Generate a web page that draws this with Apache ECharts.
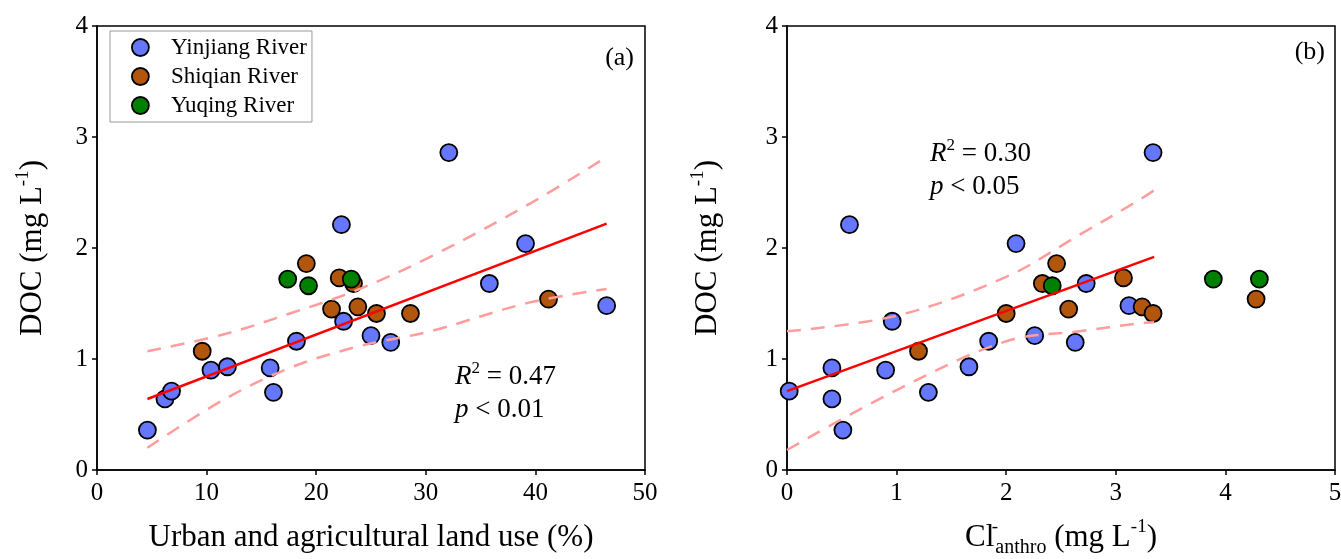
<!DOCTYPE html>
<html>
<head>
<meta charset="utf-8">
<script src="https://cdn.jsdelivr.net/npm/echarts@6/dist/echarts.min.js"></script>
<style>html,body{margin:0;padding:0;background:#fff}#c{width:1341px;height:559px}</style>
</head>
<body>
<div id="c"></div>
<script>
// ---- data ----
const seriesNames = ['Yinjiang River', 'Shiqian River', 'Yuqing River'];

const yinjiangLand = [4.6, 6.2, 6.8, 10.4, 11.9, 15.8, 16.1, 18.2, 22.5, 22.3, 25.0, 26.8, 32.1, 39.1, 35.8, 46.5];
const yinjiangCl   = [0.51, 0.41, 0.02, 0.90, 1.66, 0.41, 1.29, 1.84, 0.96, 0.57, 2.26, 2.63, 3.34, 2.09, 2.73, 3.12];
const yinjiangDOC  = [0.36, 0.64, 0.71, 0.90, 0.93, 0.92, 0.70, 1.16, 1.34, 2.21, 1.21, 1.15, 2.86, 2.04, 1.68, 1.48];

const shiqianLand = [9.6, 19.1, 22.1, 23.4, 21.4, 23.8, 25.5, 28.6, 41.2];
const shiqianCl   = [1.20, 2.46, 3.07, 2.33, 2.57, 3.24, 2.00, 3.34, 4.28];
const shiqianDOC  = [1.07, 1.86, 1.73, 1.68, 1.45, 1.47, 1.41, 1.41, 1.54];

const yuqingLand = [17.4, 19.3, 23.2];
const yuqingCl   = [3.89, 2.42, 4.31];
const yuqingDOC  = [1.72, 1.66, 1.72];

// regression line and 95% confidence band
const fitLandX = [4.6, 46.5];
const fitLandY = [0.64, 2.22];
const bandLandX = [4.6, 11.5, 17.6, 23.7, 30.4, 39.5, 46.5];
const bandLandUpper = [1.07, 1.22, 1.41, 1.62, 1.92, 2.40, 2.82];
const bandLandLower = [0.20, 0.63, 0.92, 1.11, 1.25, 1.51, 1.63];

const fitClX = [0, 3.35];
const fitClY = [0.71, 1.92];
const bandClX = [0, 1.0, 2.0, 2.67, 3.21, 3.35];
const bandClUpper = [1.25, 1.39, 1.74, 2.12, 2.43, 2.52];
const bandClLower = [0.18, 0.72, 1.16, 1.25, 1.32, 1.33];

const yTicks = [0, 1, 2, 3, 4];
const xTicksLand = [0, 10, 20, 30, 40, 50];
const xTicksCl = [0, 1, 2, 3, 4, 5];

const statsA = {r2: '0.47', p: '0.01'};
const statsB = {r2: '0.30', p: '0.05'};

// ---- styling ----
const FONT = 'Liberation Serif';
const colors = ['#6677FF', '#B2560E', '#008000'];
const zip = (xs, ys) => xs.map((x, i) => [x, ys[i]]);

const chart = echarts.init(document.getElementById('c'), null, {renderer: 'canvas'});

function xAxis(gridIndex, ticks, nameText, nameRich) {
  return {
    type: 'value', gridIndex,
    min: ticks[0], max: ticks[ticks.length - 1], interval: ticks[1] - ticks[0],
    name: nameText, nameLocation: 'middle', nameGap: 48,
    nameTextStyle: {fontFamily: FONT, fontSize: 31, color: '#000', lineHeight: 40, rich: nameRich || {}},
    axisLine: {show: true, onZero: false, lineStyle: {color: '#000', width: 1.5}},
    axisTick: {show: true, inside: false, length: 5, lineStyle: {color: '#000', width: 1.5}},
    axisLabel: {fontFamily: FONT, fontSize: 25, color: '#000', margin: 11},
    splitLine: {show: false}
  };
}
function yAxis(gridIndex, nameGap) {
  return {
    type: 'value', gridIndex,
    min: yTicks[0], max: yTicks[yTicks.length - 1], interval: 1,
    name: 'DOC (mg L{sup|-1})', nameLocation: 'middle', nameGap,
    nameTextStyle: {fontFamily: FONT, fontSize: 31, color: '#000', lineHeight: 38,
      rich: {sup: {fontFamily: FONT, fontSize: 19, lineHeight: 19, verticalAlign: 'top', color: '#000'}}},
    axisLine: {show: true, onZero: false, lineStyle: {color: '#000', width: 1.5}},
    axisTick: {show: true, inside: false, length: 5, lineStyle: {color: '#000', width: 1.5}},
    axisLabel: {fontFamily: FONT, fontSize: 25, color: '#000', margin: 9},
    splitLine: {show: false}
  };
}

function scatter(name, idx, data) {
  return {
    name, type: 'scatter', xAxisIndex: idx, yAxisIndex: idx, data,
    symbol: 'circle', symbolSize: 17, z: 2,
    itemStyle: {color: colors[seriesNames.indexOf(name)], borderColor: '#000', borderWidth: 1.8, opacity: 1}
  };
}
function fitLine(idx, data) {
  return {type: 'line', xAxisIndex: idx, yAxisIndex: idx, data, showSymbol: false, symbol: 'none', z: 5,
    lineStyle: {color: '#FF0000', width: 2.5}, silent: true};
}
function bandLine(idx, data) {
  return {type: 'line', xAxisIndex: idx, yAxisIndex: idx, data, showSymbol: false, symbol: 'none', z: 4, smooth: 0.35,
    lineStyle: {color: '#FF9C9C', width: 2.5, type: [14, 10]}, silent: true};
}

const statRich = {
  i: {fontFamily: FONT, fontSize: 27, fontStyle: 'italic', lineHeight: 33, color: '#000'},
  n: {fontFamily: FONT, fontSize: 27, lineHeight: 33, color: '#000'},
  sup: {fontFamily: FONT, fontSize: 17, lineHeight: 17, verticalAlign: 'top', color: '#000'}
};
function statText(x, y, s) {
  return {type: 'text', left: x, top: y, z: 10,
    style: {text: '{i|R}{sup|2}{n| = ' + s.r2 + '}\n{i|p}{n| < ' + s.p + '}', rich: statRich}};
}

const option = {
  backgroundColor: '#fff',
  animation: false,
  grid: [
    {left: 97, right: 696, top: 26, bottom: 89, containLabel: false, outerBoundsMode: 'none',
     show: true, borderColor: '#000', borderWidth: 1.5, backgroundColor: 'transparent'},
    {left: 787, right: 6, top: 26, bottom: 89, containLabel: false, outerBoundsMode: 'none',
     show: true, borderColor: '#000', borderWidth: 1.5, backgroundColor: 'transparent'}
  ],
  xAxis: [
    xAxis(0, xTicksLand, 'Urban and agricultural land use (%)'),
    xAxis(1, xTicksCl, 'Cl{supn|-}{sub|anthro} (mg L{sup|-1})', {
      supn: {fontFamily: FONT, fontSize: 19, lineHeight: 19, width: 1, verticalAlign: 'top', color: '#000'},
      sup: {fontFamily: FONT, fontSize: 19, lineHeight: 19, verticalAlign: 'top', color: '#000'},
      sub: {fontFamily: FONT, fontSize: 20, lineHeight: 20, verticalAlign: 'bottom', color: '#000'}
    })
  ],
  yAxis: [yAxis(0, 45), yAxis(1, 60)],
  legend: {
    data: seriesNames, orient: 'vertical', left: 110, top: 31,
    itemWidth: 17, itemHeight: 17, itemGap: 6, icon: 'circle',
    padding: [5, 5, 5, 21], borderColor: '#999', borderWidth: 1, backgroundColor: '#fff',
    itemStyle: {borderColor: '#000', borderWidth: 1.8},
    textStyle: {fontFamily: FONT, fontSize: 23, color: '#000', padding: [0, 0, 0, 17]}
  },
  series: [
    scatter('Yinjiang River', 0, zip(yinjiangLand, yinjiangDOC)),
    scatter('Shiqian River', 0, zip(shiqianLand, shiqianDOC)),
    scatter('Yuqing River', 0, zip(yuqingLand, yuqingDOC)),
    fitLine(0, zip(fitLandX, fitLandY)),
    bandLine(0, zip(bandLandX, bandLandUpper)),
    bandLine(0, zip(bandLandX, bandLandLower)),
    scatter('Yinjiang River', 1, zip(yinjiangCl, yinjiangDOC)),
    scatter('Shiqian River', 1, zip(shiqianCl, shiqianDOC)),
    scatter('Yuqing River', 1, zip(yuqingCl, yuqingDOC)),
    fitLine(1, zip(fitClX, fitClY)),
    bandLine(1, zip(bandClX, bandClUpper)),
    bandLine(1, zip(bandClX, bandClLower))
  ],
  graphic: [
    statText(455, 360, statsA),
    statText(930, 137, statsB),
    {type: 'text', right: 1341 - 634, top: 45, z: 10, style: {text: '(a)', fontFamily: FONT, fontSize: 26, fill: '#000'}},
    {type: 'text', right: 1341 - 1325, top: 39, z: 10, style: {text: '(b)', fontFamily: FONT, fontSize: 26, fill: '#000'}}
  ]
};
chart.setOption(option);
</script>
</body>
</html>
